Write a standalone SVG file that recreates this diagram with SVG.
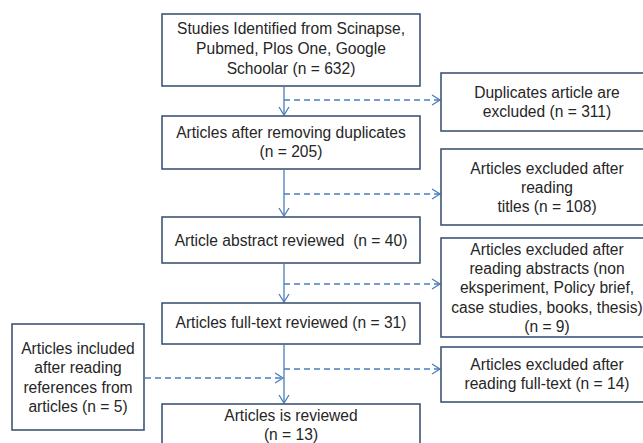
<svg xmlns="http://www.w3.org/2000/svg" width="643" height="443" viewBox="0 0 643 443">
<defs>
<marker id="arr" markerUnits="userSpaceOnUse" markerWidth="12" markerHeight="12" viewBox="-10 -6 12 12" refX="0" refY="0" orient="auto">
<path d="M-8,-5 L0,0 L-8,5" fill="none" stroke="#4a7ebb" stroke-width="1.3"/>
</marker>
</defs>
<style>
.box{fill:#fff;stroke:#3f5675;stroke-width:1.6}
text{font-family:"Liberation Sans",Arial,sans-serif;font-size:15.6px;fill:#262626;text-anchor:middle}
.solid{stroke:#4a7ebb;stroke-width:1.3;fill:none;marker-end:url(#arr)}
.dash{stroke:#4a7ebb;stroke-width:1.3;fill:none;stroke-dasharray:6 4;marker-end:url(#arr)}
</style>
<rect width="643" height="443" fill="#fff"/>
<g id="connectors">
<line class="solid" x1="284" y1="87" x2="284" y2="115"/>
<line class="solid" x1="284" y1="170" x2="284" y2="216"/>
<line class="solid" x1="284" y1="264" x2="284" y2="302"/>
<line class="solid" x1="284" y1="345" x2="284" y2="403"/>
<line class="dash" x1="284" y1="100" x2="440" y2="100"/>
<line class="dash" x1="284" y1="194" x2="440" y2="194"/>
<line class="dash" x1="284" y1="284" x2="440" y2="284"/>
<line class="dash" x1="284" y1="369" x2="440" y2="369"/>
<line class="dash" x1="145" y1="378" x2="283" y2="378"/>
</g>
<g id="n1"><rect class="box" x="162" y="14" width="258" height="72"/>
<text x="291" y="33.5">Studies Identified from Scinapse,</text>
<text x="291" y="53.5">Pubmed, Plos One, Google</text>
<text x="291" y="73.5">Schoolar (n = 632)</text></g>
<g id="n2"><rect class="box" x="162" y="116" width="258" height="53"/>
<text x="291" y="137.5">Articles after removing duplicates</text>
<text x="291" y="156.5">(n = 205)</text></g>
<g id="n3"><rect class="box" x="162" y="217" width="258" height="46"/>
<text x="291" y="245.5" xml:space="preserve">Article abstract reviewed  (n = 40)</text></g>
<g id="n4"><rect class="box" x="162" y="303" width="258" height="41"/>
<text x="291" y="327.5">Articles full-text reviewed (n = 31)</text></g>
<g id="n5"><rect class="box" x="162" y="404" width="258" height="50"/>
<text x="291" y="420.5">Articles is reviewed</text>
<text x="291" y="439.5">(n = 13)</text></g>
<g id="r1"><rect class="box" x="441" y="73" width="212" height="58"/>
<text x="547" y="97.5">Duplicates article are</text>
<text x="547" y="116.5">excluded (n = 311)</text></g>
<g id="r2"><rect class="box" x="441" y="149" width="212" height="76"/>
<text x="547" y="173.5">Articles excluded after</text>
<text x="547" y="192.5">reading</text>
<text x="547" y="211.5">titles (n = 108)</text></g>
<g id="r3"><rect class="box" x="441" y="238" width="212" height="99"/>
<text x="547" y="254.5">Articles excluded after</text>
<text x="547" y="273.5">reading abstracts (non</text>
<text x="547" y="293">eksperiment, Policy brief,</text>
<text x="547" y="312.5">case studies, books, thesis)</text>
<text x="547" y="331.5">(n = 9)</text></g>
<g id="r4"><rect class="box" x="441" y="347" width="212" height="55"/>
<text x="547" y="369.5">Articles excluded after</text>
<text x="547" y="388.5">reading full-text (n = 14)</text></g>
<g id="l1"><rect class="box" x="12" y="324" width="132" height="106"/>
<text x="78" y="353.5">Articles included</text>
<text x="78" y="373">after reading</text>
<text x="78" y="392.5">references from</text>
<text x="78" y="411.5">articles (n = 5)</text></g>
</svg>
